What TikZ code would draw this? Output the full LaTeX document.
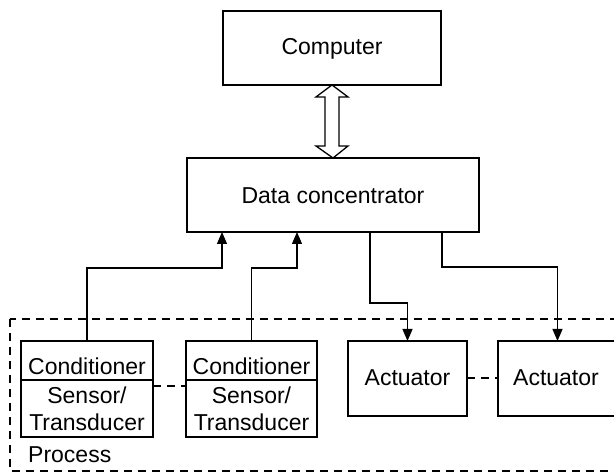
\documentclass[tikz,border=0pt]{standalone}
\usepackage{fontspec}
\setmainfont{Liberation Sans}
\usetikzlibrary{arrows.meta,calc}
\begin{document}
\begin{tikzpicture}[x=1pt,y=-1pt,
  box/.style={draw,line width=2pt,inner sep=0pt,outer sep=0pt,rectangle},
  lbl/.style={inner sep=0pt,anchor=base,font=\fontsize{23}{27}\selectfont},
  conn/.style={line width=1.3pt},
  arr/.style={conn,-{Triangle[length=12pt,width=10pt]}},
  proc/.style={line width=1.2pt,dash pattern=on 8pt off 6pt}]
\clip (0,0) rectangle (614,473);
\fill[white] (0,0) rectangle (614,473);
% process boundary
\draw[proc] (10,319) rectangle (624,471);
% main boxes
\node[box,minimum width=218pt,minimum height=74pt] (comp) at (332,48) {};
\node[lbl] (comptxt) at (332,55) {Computer};
\node[box,minimum width=292pt,minimum height=74pt] (dc) at (333,195) {};
\node[lbl] (dctxt) at (333,204) {Data concentrator};
% conditioners
\node[box,minimum width=132pt,minimum height=96pt] (c1) at (87,389) {};
\node[lbl] (c1a) at (87,375) {Conditioner};
\node[lbl] (c1b) at (87,403) {Sensor/};
\node[lbl] (c1c) at (87,431) {Transducer};
\draw[conn] (c1.west |- 0,380) -- (c1.east |- 0,380);
\node[box,minimum width=131pt,minimum height=96pt] (c2) at (251.5,389) {};
\node[lbl] (c2a) at (251.5,375) {Conditioner};
\node[lbl] (c2b) at (251.5,403) {Sensor/};
\node[lbl] (c2c) at (251.5,431) {Transducer};
\draw[conn] (c2.west |- 0,380) -- (c2.east |- 0,380);
% actuators
\node[box,minimum width=119pt,minimum height=75pt] (a1) at (407.5,378.5) {};
\node[lbl] (a1t) at (407.5,386) {Actuator};
\node[box,minimum width=119pt,minimum height=75pt] (a2) at (557.5,378.5) {};
\node[lbl] (a2t) at (556,386) {Actuator};
% process label
\node[lbl,anchor=base west] (ptxt) at (28,462) {Process};
% dashed links
\draw[proc] (c1.east |- 0,386) -- (c2.west |- 0,386);
\draw[proc] (a1.east |- 0,378) -- (a2.west |- 0,378);
% connector points on data concentrator
\coordinate (in1) at ($(dc.south west)+(35,0)$);
\coordinate (in2) at ($(dc.south west)+(110,0)$);
\coordinate (o1) at ($(dc.south west)+(183,0)$);
\coordinate (o2) at ($(dc.south west)+(255,0)$);
\draw[arr] (c1.north) |- (in1 |- 0,268) -- (in1);
\draw[arr] (c2.north) |- (in2 |- 0,268) -- (in2);
\draw[arr] (o1) |- (a1.north |- 0,303) -- (a1.north);
\draw[arr] (o2) |- (a2.north |- 0,267) -- (a2.north);
% double arrow between computer and data concentrator
\draw[conn,fill=white,line join=miter]
  (comp.south) -- ($(comp.south)+(16,12)$) -- ($(comp.south)+(7,12)$)
  -- ($(dc.north)+(6,-12)$) -- ($(dc.north)+(15,-12)$) -- (dc.north)
  -- ($(dc.north)+(-17,-12)$) -- ($(dc.north)+(-8,-12)$)
  -- ($(comp.south)+(-7,12)$) -- ($(comp.south)+(-16,12)$) -- cycle;
\end{tikzpicture}
\end{document}
